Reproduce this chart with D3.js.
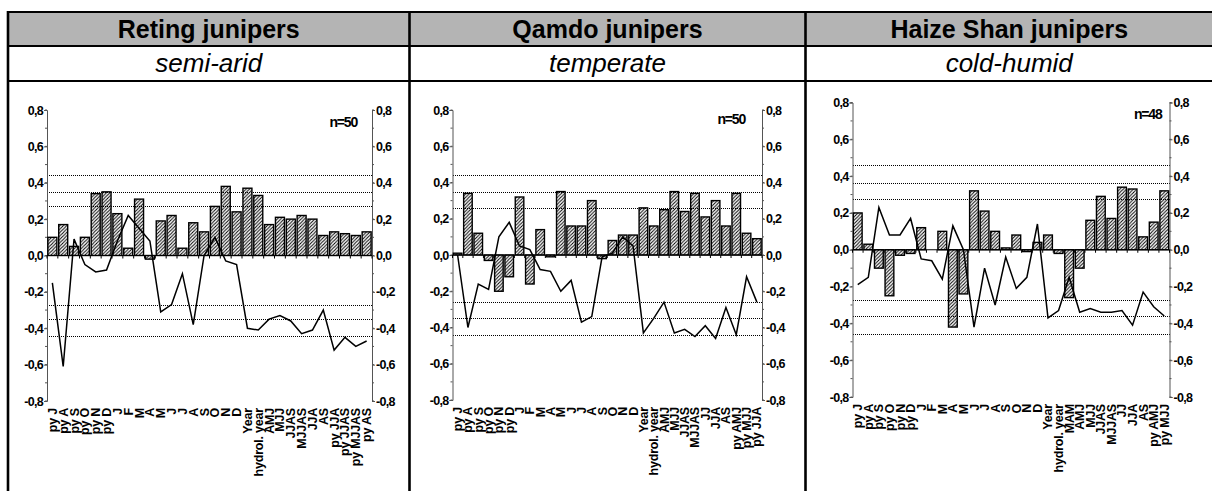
<html>
<script src="https://d3js.org/d3.v7.min.js"></script>
<style>
body {margin:0; background:#fff;}
text {font-family: Arial, "Liberation Sans", sans-serif;}
.tk {font-size: 12.5px; font-weight: bold; letter-spacing: -0.7px;}
.xl {font-size: 12.5px; font-weight: bold; letter-spacing: -0.2px;}
</style>
<body>
<svg width="1212" height="491"></svg>
<script>
// --- data ---
var titles = ["Reting junipers", "Qamdo junipers", "Haize Shan junipers"];
var climates = ["semi-arid", "temperate", "cold-humid"];
var sampleN = ["n=50", "n=50", "n=48"];
var yTicks = [-0.8, -0.6, -0.4, -0.2, 0.0, 0.2, 0.4, 0.6, 0.8];

var retingCats = ["py J","py A","py S","py O","py N","py D","J","F","M","A","M","J","J","A","S","O","N","D","Year","hydrol. year","AMJ","MJJ","JJAS","MJJAS","JJA","AS","py JJA","py JJAS","py MJJAS","py AS"];
var retingBars = [0.10,0.17,0.05,0.10,0.34,0.35,0.23,0.04,0.31,-0.02,0.19,0.22,0.04,0.18,0.13,0.27,0.38,0.24,0.37,0.33,0.17,0.21,0.20,0.22,0.20,0.11,0.13,0.12,0.11,0.13];
var retingLine = [-0.15,-0.61,0.09,-0.05,-0.09,-0.08,0.08,0.22,0.15,0.08,-0.31,-0.27,-0.10,-0.38,0.00,0.10,-0.03,-0.05,-0.40,-0.41,-0.35,-0.33,-0.36,-0.43,-0.41,-0.30,-0.52,-0.45,-0.50,-0.47];
var retingSig = [0.27, 0.35, 0.44];

var qamdoCats = ["py J","py A","py S","py O","py N","py D","J","F","M","A","M","J","J","A","S","O","N","D","Year","hydrol. year","AMJ","MJJ","JJAS","MJJAS","JJ","JJA","AS","py AMJ","py MJJ","py JJA"];
var qamdoBars = [0.01,0.34,0.12,-0.03,-0.20,-0.12,0.32,-0.16,0.14,-0.01,0.35,0.16,0.16,0.30,-0.02,0.08,0.11,0.11,0.26,0.16,0.25,0.35,0.24,0.34,0.21,0.30,0.16,0.34,0.12,0.09];
var qamdoLine = [0.00,-0.40,-0.16,-0.19,0.10,0.18,0.05,0.03,-0.08,-0.09,-0.20,-0.14,-0.37,-0.34,-0.01,0.01,0.10,0.05,-0.43,-0.35,-0.26,-0.43,-0.41,-0.45,-0.39,-0.46,-0.29,-0.44,-0.12,-0.26];
var qamdoSig = [0.26, 0.35, 0.44];

var haizeCats = ["py J","py A","py S","py O","py N","py D","J","F","M","A","M","J","J","A","S","O","N","D","Year","hydrol. year","MAM","AMJ","MJJ","JJAS","MJJAS","JJ","JJA","AS","py AMJ","py MJJ"];
var haizeBars = [0.20,0.03,-0.10,-0.25,-0.03,-0.02,0.12,0.00,0.10,-0.42,-0.24,0.32,0.21,0.10,0.01,0.08,-0.01,0.04,0.08,-0.02,-0.26,-0.10,0.16,0.29,0.17,0.34,0.33,0.07,0.15,0.32];
var haizeLine = [-0.19,-0.15,0.23,0.08,0.08,0.17,-0.05,-0.06,-0.16,0.13,0.00,-0.42,-0.10,-0.30,-0.04,-0.21,-0.15,0.14,-0.37,-0.33,-0.15,-0.34,-0.32,-0.34,-0.34,-0.33,-0.41,-0.23,-0.31,-0.36];
var haizeSig = [0.275, 0.36, 0.46];

// --- layout ---
var svg = d3.select("svg");
var colX = [8, 409.5, 805.5, 1213];

svg.append("rect").attr("x", 8).attr("y", 12).attr("width", 1212).attr("height", 34).attr("fill", "#b4b4b4");
[12, 46, 81].forEach(function(y) {
  svg.append("line").attr("x1", 7).attr("x2", 1212).attr("y1", y).attr("y2", y).attr("stroke", "#000").attr("stroke-width", 2.2);
});
colX.slice(0, 3).forEach(function(x) {
  svg.append("line").attr("x1", x).attr("x2", x).attr("y1", 11).attr("y2", 491).attr("stroke", "#000").attr("stroke-width", 2.6);
});
titles.forEach(function(t, i) {
  var cx = (colX[i] + colX[i + 1]) / 2;
  svg.append("text").attr("x", cx).attr("y", 38).attr("text-anchor", "middle")
    .style("font-size", "25px").style("font-weight", "bold").text(t);
  svg.append("text").attr("x", cx).attr("y", 72).attr("text-anchor", "middle")
    .style("font-size", "26px").style("font-style", "italic").text(climates[i]);
});

var defs = svg.append("defs");
defs.append("pattern").attr("id", "hatch").attr("patternUnits", "userSpaceOnUse")
  .attr("width", 3.4).attr("height", 3.4)
  .append("path").attr("d", "M-1,1 l2,-2 M0,3.4 l3.4,-3.4 M2.4,4.4 l2,-2")
  .attr("stroke", "#000").attr("stroke-width", 1);

var panels = [
  {cats: retingCats, bars: retingBars, line: retingLine, sig: retingSig, x0: 47, x1: 372, yTop: 110, yBot: 401, nx: -15, ny: 17},
  {cats: qamdoCats, bars: qamdoBars, line: qamdoLine, sig: qamdoSig, x0: 452.5, x1: 762, yTop: 110, yBot: 400, nx: -17, ny: 14},
  {cats: haizeCats, bars: haizeBars, line: haizeLine, sig: haizeSig, x0: 852.5, x1: 1169.5, yTop: 102.5, yBot: 397, nx: -8, ny: 16}
];

function fmt(d) {
  return (d < 0 ? "-" : "") + Math.abs(d).toFixed(1).replace(".", ",");
}

panels.forEach(function(p, pi) {
  var x = d3.scaleBand().domain(d3.range(p.cats.length)).range([p.x0, p.x1]).paddingInner(0.17).paddingOuter(0.08);
  var y = d3.scaleLinear().domain([-0.8, 0.8]).range([p.yBot, p.yTop]);
  var g = svg.append("g");

  // significance levels
  p.sig.forEach(function(s) {
    [s, -s].forEach(function(v) {
      var yy = Math.round(y(v)) + 0.5;
      g.append("line").attr("x1", Math.round(p.x0)).attr("x2", Math.round(p.x1)).attr("y1", yy).attr("y2", yy)
        .attr("stroke", "#000").attr("stroke-width", 1).attr("stroke-dasharray", "1,1");
    });
  });

  // axes
  var minor = d3.range(-0.8, 0.81, 0.1);
  var left = g.append("g").attr("transform", "translate(" + p.x0 + ",0)")
    .call(d3.axisLeft(y).tickValues(yTicks).tickFormat(fmt).tickSize(3).tickPadding(1));
  var right = g.append("g").attr("transform", "translate(" + p.x1 + ",0)")
    .call(d3.axisRight(y).tickValues(yTicks).tickFormat(fmt).tickSize(3).tickPadding(1));
  [left, right].forEach(function(a, k) {
    a.select(".domain").attr("stroke", "#555");
    a.selectAll(".tick line").attr("stroke", "#555");
    a.selectAll("text").attr("class", "tk").attr("fill", "#000").attr("font-family", null).attr("font-size", null);
    a.selectAll(".mn").data(minor).enter().append("line").attr("class", "mn")
      .attr("x1", 0).attr("x2", k ? 2 : -2).attr("y1", function(d) { return y(d); }).attr("y2", function(d) { return y(d); })
      .attr("stroke", "#555");
  });

  // bars
  g.selectAll(".bar").data(p.bars).enter().append("rect").attr("class", "bar")
    .attr("x", function(d, i) { return x(i); })
    .attr("width", x.bandwidth())
    .attr("y", function(d) { return y(Math.max(0, d)); })
    .attr("height", function(d) { return Math.abs(y(d) - y(0)); })
    .attr("fill", "url(#hatch)").attr("stroke", "#000").attr("stroke-width", 1.4);

  // zero line with category ticks
  g.append("line").attr("x1", p.x0).attr("x2", p.x1).attr("y1", y(0)).attr("y2", y(0))
    .attr("stroke", "#000").attr("stroke-width", 1.2);
  g.selectAll(".ct").data(d3.range(p.cats.length + 1)).enter().append("line").attr("class", "ct")
    .attr("x1", function(i) { return p.x0 + i * (p.x1 - p.x0) / p.cats.length; })
    .attr("x2", function(i) { return p.x0 + i * (p.x1 - p.x0) / p.cats.length; })
    .attr("y1", y(0)).attr("y2", y(0) + 3).attr("stroke", "#000");

  // line series
  var ln = d3.line().x(function(d, i) { return x(i) + x.bandwidth() / 2; }).y(function(d) { return y(d); });
  g.append("path").datum(p.line).attr("d", ln).attr("fill", "none").attr("stroke", "#000").attr("stroke-width", 1.5);

  // category labels
  g.selectAll(".xl").data(p.cats).enter().append("text").attr("class", "xl")
    .attr("transform", function(d, i) { return "translate(" + (x(i) + x.bandwidth() / 2 + 4.5) + "," + (p.yBot + 7) + ") rotate(-90)"; })
    .attr("text-anchor", "end").text(function(d) { return d; });

  // sample size
  g.append("text").attr("x", p.x1 + p.nx).attr("y", p.yTop + p.ny).attr("text-anchor", "end")
    .style("font-size", "14px").style("font-weight", "bold").style("letter-spacing", "-1.2px").text(sampleN[pi]);
});
</script>
</body>
</html>
